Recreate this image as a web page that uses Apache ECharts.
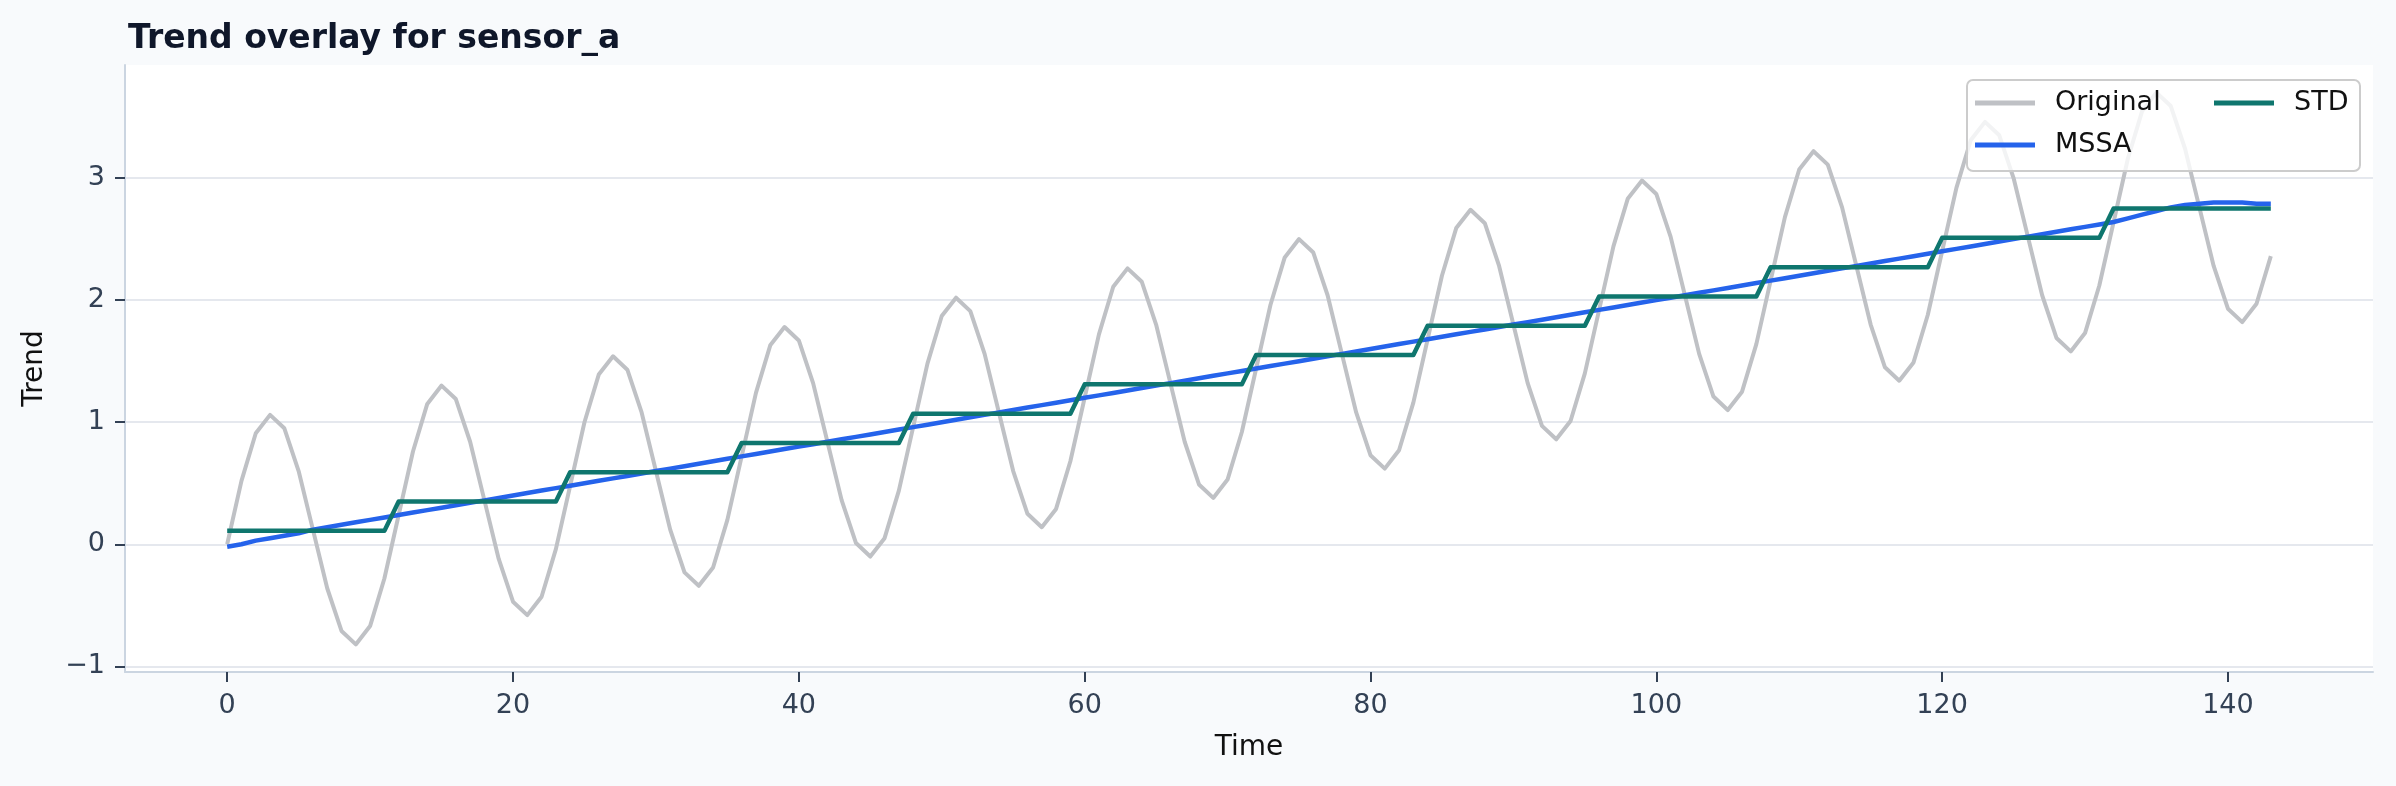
<!DOCTYPE html>
<html>
<head>
<meta charset="utf-8">
<title>Trend overlay for sensor_a</title>
<script src="https://cdn.jsdelivr.net/npm/echarts@6.0.0/dist/echarts.min.js"></script>
<style>
  html, body { margin: 0; padding: 0; background: #f8fafc; }
  #chart { width: 2396px; height: 786px; }
</style>
</head>
<body>
<div id="chart"></div>
<script>
// time index 0..143
const time = Array.from({ length: 144 }, (_, i) => i);

// raw signal (one row per 12-sample cycle)
const original = [
  0.00, 0.52, 0.91, 1.06, 0.95, 0.60, 0.12, -0.36, -0.71, -0.82, -0.67, -0.28,
  0.24, 0.76, 1.15, 1.30, 1.19, 0.84, 0.36, -0.12, -0.47, -0.58, -0.43, -0.04,
  0.48, 1.00, 1.39, 1.54, 1.43, 1.08, 0.60, 0.12, -0.23, -0.34, -0.19, 0.20,
  0.72, 1.24, 1.63, 1.78, 1.67, 1.32, 0.84, 0.36, 0.01, -0.10, 0.05, 0.44,
  0.96, 1.48, 1.87, 2.02, 1.91, 1.56, 1.08, 0.60, 0.25, 0.14, 0.29, 0.68,
  1.20, 1.72, 2.11, 2.26, 2.15, 1.80, 1.32, 0.84, 0.49, 0.38, 0.53, 0.92,
  1.44, 1.96, 2.35, 2.50, 2.39, 2.04, 1.56, 1.08, 0.73, 0.62, 0.77, 1.16,
  1.68, 2.20, 2.59, 2.74, 2.63, 2.28, 1.80, 1.32, 0.97, 0.86, 1.01, 1.40,
  1.92, 2.44, 2.83, 2.98, 2.87, 2.52, 2.04, 1.56, 1.21, 1.10, 1.25, 1.64,
  2.16, 2.68, 3.07, 3.22, 3.11, 2.76, 2.28, 1.80, 1.45, 1.34, 1.49, 1.88,
  2.40, 2.92, 3.31, 3.46, 3.35, 3.00, 2.52, 2.04, 1.69, 1.58, 1.73, 2.12,
  2.64, 3.16, 3.55, 3.70, 3.59, 3.24, 2.76, 2.28, 1.93, 1.82, 1.97, 2.36
];

const mssa = [
  -0.02, 0.00, 0.03, 0.05, 0.07, 0.09, 0.12, 0.14, 0.16, 0.18, 0.20, 0.22,
  0.24, 0.26, 0.28, 0.30, 0.32, 0.34, 0.36, 0.38, 0.40, 0.42, 0.44, 0.46,
  0.48, 0.50, 0.52, 0.54, 0.56, 0.58, 0.60, 0.62, 0.64, 0.66, 0.68, 0.70,
  0.72, 0.74, 0.76, 0.78, 0.80, 0.82, 0.84, 0.86, 0.88, 0.90, 0.92, 0.94,
  0.96, 0.98, 1.00, 1.02, 1.04, 1.06, 1.08, 1.10, 1.12, 1.14, 1.16, 1.18,
  1.20, 1.22, 1.24, 1.26, 1.28, 1.30, 1.32, 1.34, 1.36, 1.38, 1.40, 1.42,
  1.44, 1.46, 1.48, 1.50, 1.52, 1.54, 1.56, 1.58, 1.60, 1.62, 1.64, 1.66,
  1.68, 1.70, 1.72, 1.74, 1.76, 1.78, 1.80, 1.82, 1.84, 1.86, 1.88, 1.90,
  1.92, 1.94, 1.96, 1.98, 2.00, 2.02, 2.04, 2.06, 2.08, 2.10, 2.12, 2.14,
  2.16, 2.18, 2.20, 2.22, 2.24, 2.26, 2.28, 2.30, 2.32, 2.34, 2.36, 2.38,
  2.40, 2.42, 2.44, 2.46, 2.48, 2.50, 2.52, 2.54, 2.56, 2.58, 2.60, 2.62,
  2.64, 2.67, 2.70, 2.73, 2.76, 2.78, 2.79, 2.80, 2.80, 2.80, 2.79, 2.79
];

// STD trend: flat per 12-sample period
const std = [
  0.11, 0.11, 0.11, 0.11, 0.11, 0.11, 0.11, 0.11, 0.11, 0.11, 0.11, 0.11,
  0.35, 0.35, 0.35, 0.35, 0.35, 0.35, 0.35, 0.35, 0.35, 0.35, 0.35, 0.35,
  0.59, 0.59, 0.59, 0.59, 0.59, 0.59, 0.59, 0.59, 0.59, 0.59, 0.59, 0.59,
  0.83, 0.83, 0.83, 0.83, 0.83, 0.83, 0.83, 0.83, 0.83, 0.83, 0.83, 0.83,
  1.07, 1.07, 1.07, 1.07, 1.07, 1.07, 1.07, 1.07, 1.07, 1.07, 1.07, 1.07,
  1.31, 1.31, 1.31, 1.31, 1.31, 1.31, 1.31, 1.31, 1.31, 1.31, 1.31, 1.31,
  1.55, 1.55, 1.55, 1.55, 1.55, 1.55, 1.55, 1.55, 1.55, 1.55, 1.55, 1.55,
  1.79, 1.79, 1.79, 1.79, 1.79, 1.79, 1.79, 1.79, 1.79, 1.79, 1.79, 1.79,
  2.03, 2.03, 2.03, 2.03, 2.03, 2.03, 2.03, 2.03, 2.03, 2.03, 2.03, 2.03,
  2.27, 2.27, 2.27, 2.27, 2.27, 2.27, 2.27, 2.27, 2.27, 2.27, 2.27, 2.27,
  2.51, 2.51, 2.51, 2.51, 2.51, 2.51, 2.51, 2.51, 2.51, 2.51, 2.51, 2.51,
  2.75, 2.75, 2.75, 2.75, 2.75, 2.75, 2.75, 2.75, 2.75, 2.75, 2.75, 2.75
];

const xTicks = [0, 20, 40, 60, 80, 100, 120, 140];
const yTicks = [-1, 0, 1, 2, 3];

const FONT = "DejaVu Sans";
const pairs = (ys) => time.map((t, i) => [t, ys[i]]);

const chart = echarts.init(document.getElementById("chart"), null, { renderer: "canvas" });

const lineSeries = (name, ys, color, width) => ({
  name,
  type: "line",
  data: pairs(ys),
  showSymbol: false,
  symbol: "none",
  lineStyle: { color, width, join: "round" },
  itemStyle: { color },
  animation: false,
});

chart.setOption({
  backgroundColor: "#f8fafc",
  animation: false,
  textStyle: { fontFamily: FONT },
  title: {
    text: "Trend overlay for sensor_a",
    left: 123,
    top: 14,
    textStyle: { fontFamily: FONT, fontSize: 33, fontWeight: "bold", color: "#0f172a", lineHeight: 40 },
  },
  grid: {
    left: 125,
    right: 23,
    top: 65,
    bottom: 114,
    show: true,
    backgroundColor: "#ffffff",
    borderWidth: 0,
  },
  xAxis: {
    type: "value",
    min: -7.15,
    max: 150.15,
    name: "Time",
    nameLocation: "middle",
    nameGap: 62,
    nameTextStyle: { fontFamily: FONT, fontSize: 28, color: "#111111" },
    axisLine: { show: true, onZero: false, lineStyle: { color: "#cbd5e1", width: 2 } },
    axisTick: { show: true, inside: false, length: 10, customValues: xTicks, lineStyle: { color: "#334155", width: 2 } },
    axisLabel: { customValues: xTicks, margin: 20, fontFamily: FONT, fontSize: 27, color: "#334155" },
    splitLine: { show: false },
  },
  yAxis: {
    type: "value",
    min: -1.046,
    max: 3.926,
    name: "Trend",
    nameLocation: "middle",
    nameGap: 76,
    nameRotate: 90,
    nameTextStyle: { fontFamily: FONT, fontSize: 28, color: "#111111" },
    axisLine: { show: true, onZero: false, lineStyle: { color: "#cbd5e1", width: 2 } },
    axisTick: { show: true, inside: false, length: 10, customValues: yTicks, lineStyle: { color: "#334155", width: 2 } },
    axisLabel: {
      customValues: yTicks,
      margin: 20,
      fontFamily: FONT,
      fontSize: 27,
      color: "#334155",
      formatter: (v) => (v < 0 ? "\u2212" + Math.abs(v) : String(v)),
    },
    splitLine: { show: true, lineStyle: { color: "#e5e8ee", width: 2 } },
  },
  legend: [
    {
      data: ["Original", "MSSA"],
      orient: "vertical",
      left: 1975,
      top: 88,
      padding: 0,
      itemGap: 12,
      itemWidth: 60,
      itemHeight: 5,
      icon: "rect",
      z: 101,
      textStyle: { fontFamily: FONT, fontSize: 27, color: "#111111", lineHeight: 30, padding: [0, 0, 0, 15] },
    },
    {
      data: ["STD"],
      orient: "vertical",
      left: 2214,
      top: 88,
      padding: 0,
      itemWidth: 60,
      itemHeight: 5,
      icon: "rect",
      z: 101,
      textStyle: { fontFamily: FONT, fontSize: 27, color: "#111111", lineHeight: 30, padding: [0, 0, 0, 15] },
    },
  ],
  graphic: [
    {
      type: "rect",
      z: 100,
      silent: true,
      shape: { x: 1967, y: 80, width: 393, height: 91, r: 6 },
      style: { fill: "rgba(255,255,255,0.8)", stroke: "#cccccc", lineWidth: 2 },
    },
  ],
  series: [
    lineSeries("Original", original, "#bfc1c5", 4),
    lineSeries("MSSA", mssa, "#2563eb", 4.5),
    lineSeries("STD", std, "#0f766e", 4.5),
  ],
});
</script>
</body>
</html>
